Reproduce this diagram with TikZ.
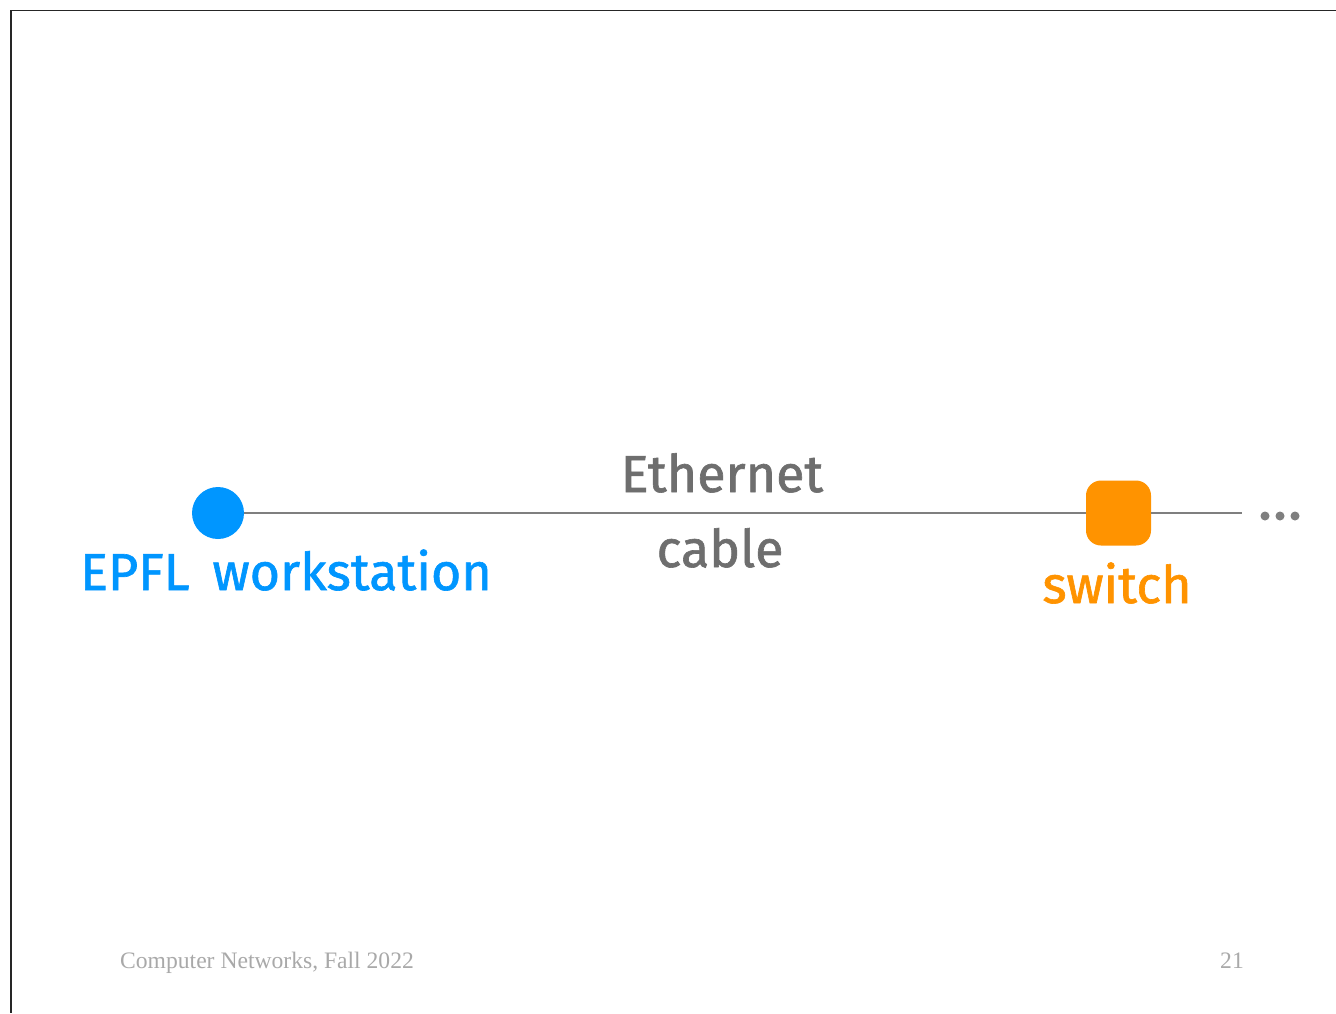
\documentclass[tikz,border=0pt]{standalone}
\usepackage{fontspec}
\setmainfont{Liberation Serif}
\newfontfamily\hand[FakeBold=1.2]{Fira Sans}
\definecolor{wsblue}{HTML}{0096FF}
\definecolor{swor}{HTML}{FF9300}
\definecolor{cablegray}{HTML}{7F7F7F}
\definecolor{txtgray}{HTML}{6E6E6E}
\definecolor{footgray}{HTML}{A9A9A9}
\begin{document}
\begin{tikzpicture}[x=1pt,y=-1pt,
  lbl/.style={inner sep=0pt, font=\hand\fontsize{52}{56}\selectfont},
  foot/.style={inner sep=0pt, text=footgray, font=\fontsize{23.6}{27}\selectfont},
  cablestyle/.style={draw=cablegray, line width=2pt}]
\useasboundingbox (0,0) rectangle (1336,1013);
\fill[white] (0,0) rectangle (1336,1013);
\draw[black!85, line width=1.2pt] (1336,10.5) -- (11,10.5) -- (11,1013);
% nodes
\node[circle, fill=wsblue, minimum size=52pt, inner sep=0pt] (ws) at (218,513) {};
\node[rounded corners=15pt, fill=swor, minimum size=65pt, inner sep=0pt] (sw) at (1118.5,513) {};
\coordinate (end) at (1242,513);
\draw[cablestyle] (ws) -- (sw);
\draw[cablestyle] (sw) -- (end);
\foreach \x in {1265,1280,1295} \fill[cablegray] (\x,516) circle (4.5pt);
% labels
\node[lbl, text=wsblue, anchor=base west] (wslbl) at (80,590) {EPFL\hspace{9pt} workstation};
\node[lbl, text=txtgray, anchor=base] (eth) at (722,492) {Ethernet};
\node[lbl, text=txtgray, anchor=base] (cab) at (720,567) {cable};
\node[lbl, text=swor, anchor=base] (swlbl) at (1117,603) {switch};
% footer
\node[foot, anchor=base west] (f1) at (120,968) {Computer Networks, Fall 2022};
\node[foot, anchor=base east] (f2) at (1244,968) {21};
\end{tikzpicture}
\end{document}
